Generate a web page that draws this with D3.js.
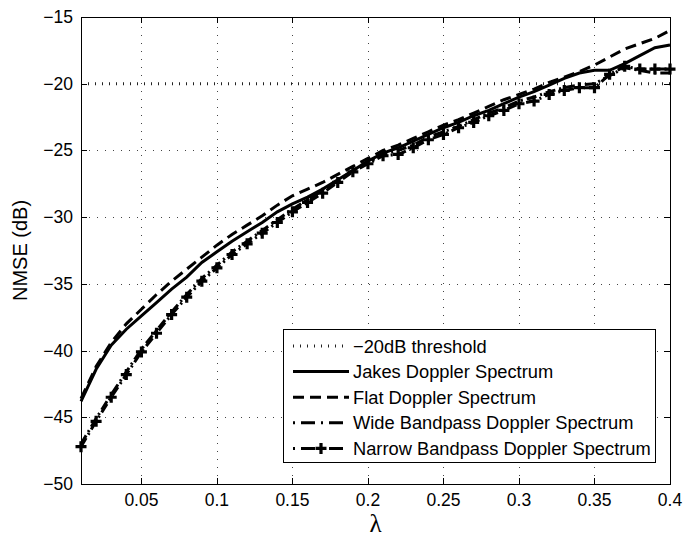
<!DOCTYPE html>
<html>
<head>
<meta charset="utf-8">
<script src="https://cdn.jsdelivr.net/npm/d3@7"></script>
<style>
  body { margin: 0; background: #fff; }
  svg text { font-family: "Liberation Sans", Arial, Helvetica, sans-serif; fill: #000; }
</style>
</head>
<body>
<div id="chart"></div>
<script>
// lambda values (x axis)
var lambda = [0.01, 0.02, 0.03, 0.04, 0.05, 0.06, 0.07, 0.08, 0.09, 0.10,
    0.11, 0.12, 0.13, 0.14, 0.15, 0.16, 0.17, 0.18, 0.19, 0.20,
    0.21, 0.22, 0.23, 0.24, 0.25, 0.26, 0.27, 0.28, 0.29, 0.30,
    0.31, 0.32, 0.33, 0.34, 0.35, 0.36, 0.37, 0.38, 0.39, 0.40];

// NMSE (dB)
var jakes = [-43.8, -41.4, -39.6, -38.4, -37.4, -36.4, -35.4, -34.5, -33.4, -32.6,
    -31.8, -31.1, -30.4, -29.6, -29.0, -28.5, -27.9, -27.2, -26.5, -25.8,
    -25.2, -24.8, -24.3, -23.8, -23.3, -22.9, -22.4, -22.0, -21.5, -21.0,
    -20.6, -20.1, -19.6, -19.2, -19.0, -19.0, -18.5, -17.9, -17.3, -17.1];
var flat = [-43.6, -41.2, -39.4, -38.0, -36.9, -35.8, -34.8, -33.9, -33.0, -32.1,
    -31.3, -30.6, -29.9, -29.1, -28.4, -27.9, -27.4, -26.8, -26.2, -25.6,
    -25.0, -24.6, -24.1, -23.6, -23.1, -22.7, -22.2, -21.7, -21.2, -20.8,
    -20.4, -19.9, -19.5, -19.1, -18.6, -18.0, -17.4, -17.0, -16.6, -16.0];
var wide = [-47.0, -45.1, -43.3, -41.6, -39.9, -38.5, -37.1, -35.8, -34.6, -33.6,
    -32.6, -31.8, -31.0, -30.2, -29.4, -28.7, -28.0, -27.3, -26.5, -25.9,
    -25.3, -25.0, -24.6, -24.0, -23.6, -23.2, -22.7, -22.2, -21.8, -21.3,
    -21.0, -20.6, -20.3, -20.1, -20.0, -19.4, -18.8, -19.0, -19.2, -19.2];
var narrow = [-47.2, -45.3, -43.5, -41.8, -40.1, -38.7, -37.3, -36.0, -34.8, -33.8,
    -32.8, -32.0, -31.2, -30.4, -29.6, -28.9, -28.2, -27.4, -26.6, -26.0,
    -25.4, -25.3, -24.8, -24.2, -23.8, -23.3, -22.9, -22.4, -22.0, -21.5,
    -21.3, -20.8, -20.5, -20.3, -20.3, -19.3, -18.7, -18.9, -18.9, -18.9];

var threshold = -20;
var xTicks = [0.05, 0.1, 0.15, 0.2, 0.25, 0.3, 0.35, 0.4];
var yTicks = [-50, -45, -40, -35, -30, -25, -20, -15];
var legendLabels = ["\u221220dB threshold", "Jakes Doppler Spectrum", "Flat Doppler Spectrum",
    "Wide Bandpass Doppler Spectrum", "Narrow Bandpass Doppler Spectrum"];

var W = 684, H = 537;
var pL = 81, pR = 670, pT = 17, pB = 484;

var svg = d3.select("#chart").append("svg")
    .attr("width", W)
    .attr("height", H);

var x = d3.scaleLinear().domain([0.01, 0.4]).range([pL, pR]);
var y = d3.scaleLinear().domain([-50, -15]).range([pB, pT]);

var fmt = function (d) { return String(d).replace("-", "\u2212"); };

// grid
var grid = svg.append("g").attr("stroke", "#444").attr("stroke-width", 1)
    .attr("stroke-dasharray", "1,7");
grid.selectAll(".gx").data(xTicks.filter(function (d) { return d < 0.4; })).enter().append("line")
    .attr("x1", function (d) { return Math.round(x(d)) + 0.5; })
    .attr("x2", function (d) { return Math.round(x(d)) + 0.5; })
    .attr("y1", pB).attr("y2", pT);
grid.selectAll(".gy").data(yTicks.filter(function (d) { return d > -50 && d < -15 && d != threshold; })).enter().append("line")
    .attr("y1", function (d) { return Math.round(y(d)) + 0.5; })
    .attr("y2", function (d) { return Math.round(y(d)) + 0.5; })
    .attr("x1", pL).attr("x2", pR);

// threshold line
svg.append("line")
    .attr("x1", pL).attr("x2", pR)
    .attr("y1", y(threshold)).attr("y2", y(threshold))
    .attr("stroke", "#222").attr("stroke-width", 3)
    .attr("stroke-dasharray", "1,6");

var line = d3.line()
    .x(function (d) { return x(d[0]); })
    .y(function (d) { return y(d[1]); });

var series = [
    {values: jakes, dash: null},
    {values: flat, dash: "11,6"},
    {values: wide, dash: "10,4,2,4"},
    {values: narrow, dash: "10,4,2,4"}
];

series.forEach(function (s) {
    svg.append("path")
        .datum(d3.zip(lambda, s.values))
        .attr("d", line)
        .attr("fill", "none")
        .attr("stroke", "#000")
        .attr("stroke-width", 3)
        .attr("stroke-dasharray", s.dash);
});

// plus markers on narrow bandpass
function plus(g, cx, cy) {
    g.append("path")
        .attr("d", "M" + (cx - 5.5) + "," + cy + "H" + (cx + 5.5) + "M" + cx + "," + (cy - 5.5) + "V" + (cy + 5.5))
        .attr("stroke", "#000").attr("stroke-width", 3.2).attr("fill", "none");
}
var marks = svg.append("g");
lambda.forEach(function (l, i) { plus(marks, x(l), y(narrow[i])); });

// axes box and ticks
svg.append("rect")
    .attr("x", pL + 0.5).attr("y", pT + 0.5)
    .attr("width", pR - pL).attr("height", pB - pT)
    .attr("fill", "none").attr("stroke", "#000").attr("stroke-width", 1);

var ticks = svg.append("g").attr("stroke", "#000").attr("stroke-width", 1);
xTicks.forEach(function (t) {
    var px = Math.round(x(t)) + 0.5;
    ticks.append("line").attr("x1", px).attr("x2", px).attr("y1", pB).attr("y2", pB - 6);
    ticks.append("line").attr("x1", px).attr("x2", px).attr("y1", pT).attr("y2", pT + 6);
});
yTicks.forEach(function (t) {
    var py = Math.round(y(t)) + 0.5;
    ticks.append("line").attr("y1", py).attr("y2", py).attr("x1", pL).attr("x2", pL + 6);
    ticks.append("line").attr("y1", py).attr("y2", py).attr("x1", pR).attr("x2", pR - 6);
});

svg.append("g").selectAll("text").data(xTicks).enter().append("text")
    .attr("x", function (d) { return x(d); })
    .attr("y", 506)
    .attr("text-anchor", "middle")
    .style("font-size", "17.5px")
    .text(function (d) { return d; });

svg.append("g").selectAll("text").data(yTicks).enter().append("text")
    .attr("x", 73)
    .attr("y", function (d) { return y(d) + 6; })
    .attr("text-anchor", "end")
    .style("font-size", "17.5px")
    .text(fmt);

// axis titles
svg.append("text")
    .attr("transform", "translate(27," + ((pT + pB) / 2) + ") rotate(-90)")
    .attr("text-anchor", "middle")
    .style("font-size", "20px")
    .text("NMSE (dB)");

svg.append("text")
    .attr("x", (pL + pR) / 2)
    .attr("y", 532)
    .attr("text-anchor", "middle")
    .style("font-family", "'Liberation Serif', 'DejaVu Serif', serif")
    .style("font-size", "25px")
    .text("\u03bb");

// legend
var legend = svg.append("g").attr("transform", "translate(283,329)");
legend.append("rect")
    .attr("x", 0.5).attr("y", 0.5)
    .attr("width", 372).attr("height", 133)
    .attr("fill", "#fff").attr("stroke", "#000").attr("stroke-width", 1);

var legendStyles = [
    {dash: "1,6", width: 3, color: "#222"},
    {dash: null, width: 3, color: "#000"},
    {dash: "11,6", width: 3, color: "#000"},
    {dash: "2,6,14,6", width: 3, color: "#000"},
    {dash: "2,6,14,6", width: 3, color: "#000"}
];

legendLabels.forEach(function (label, i) {
    var ly = 17 + i * 25.6;
    var st = legendStyles[i];
    legend.append("line")
        .attr("x1", 10).attr("x2", 66)
        .attr("y1", ly).attr("y2", ly)
        .attr("stroke", st.color).attr("stroke-width", st.width)
        .attr("stroke-dasharray", st.dash);
    if (i == 4) plus(legend, 38, ly);
    legend.append("text")
        .attr("x", 70)
        .attr("y", ly + 6.5)
        .style("font-size", "18.3px")
        .text(label);
});
</script>
</body>
</html>
